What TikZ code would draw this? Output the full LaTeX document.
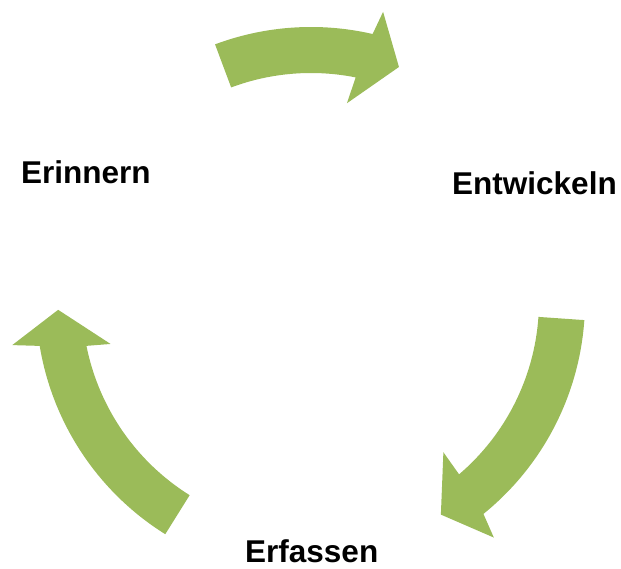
\documentclass[tikz,border=0pt]{standalone}
\usepackage{fontspec}
\setmainfont{Liberation Sans}
\usetikzlibrary{calc}
\definecolor{arrowgreen}{HTML}{9BBB59}
\tikzset{
  lbl/.style={anchor=base west, inner sep=0pt, font=\bfseries\fontsize{31.5}{37}\selectfont, text=black},
  blockarrow/.style={fill=arrowgreen, draw=none}
}
\begin{document}
\begin{tikzpicture}
\useasboundingbox (0pt,0pt) rectangle (621pt,569pt);
\coordinate (c) at (311pt,268pt);
% top arrow
\fill[blockarrow] ($(c)+(110.5:274pt)$) arc[start angle=110.5, end angle=77, radius=274pt]
  -- ($(c)+(76:298pt)$) -- ($(c)+(69.4:250pt)$) -- ($(c)+(79.7:201pt)$)
  -- ($(c)+(78.7:228pt)$) arc[start angle=78.7, end angle=110.5, radius=228pt] -- cycle;
% right arrow
\fill[blockarrow] ($(c)+(-4:274pt)$) arc[start angle=-4, end angle=-51, radius=274pt]
  -- ($(c)+(-52.3:299pt)$) -- ($(c)+(-58.7:250pt)$) -- ($(c)+(-48.8:201pt)$)
  -- ($(c)+(-49.5:228pt)$) arc[start angle=-49.5, end angle=-4, radius=228pt] -- cycle;
% left arrow
\fill[blockarrow] ($(c)+(238:275pt)$) arc[start angle=238, end angle=189.4, radius=275pt]
  -- ($(c)+(188.4:302pt)$) -- ($(c)+(182:253pt)$) -- ($(c)+(192.1:205pt)$)
  -- ($(c)+(191.3:229pt)$) arc[start angle=191.3, end angle=238, radius=229pt] -- cycle;
\node[lbl] (erinnern) at (21pt,385pt) {Erinnern};
\node[lbl] (entwickeln) at (452pt,374pt) {Entwickeln};
\node[lbl] (erfassen) at (245pt,6pt) {Erfassen};
\end{tikzpicture}
\end{document}
